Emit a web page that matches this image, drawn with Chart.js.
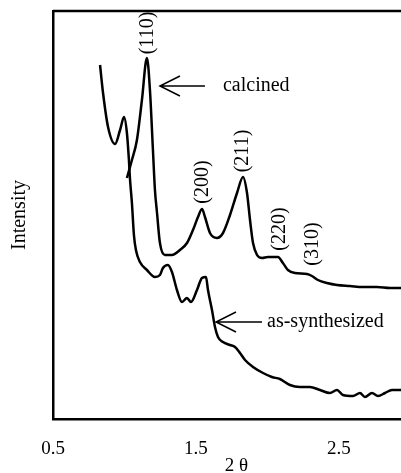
<!DOCTYPE html>
<html>
<head>
<meta charset="utf-8">
<script src="https://cdn.jsdelivr.net/npm/chart.js@4/dist/chart.umd.min.js"></script>
<style>
  html, body { margin: 0; padding: 0; background: #fff; }
  canvas { display: block; }
</style>
</head>
<body>
<canvas id="xrd" width="401" height="473"></canvas>
<script>
// --- DATA (2 theta vs intensity, arbitrary units) ---
const xTicks = [0.5, 1.5, 2.5];

const synthX = [0.829, 0.850, 0.885, 0.934, 0.969, 0.997, 1.017, 1.031, 1.038, 1.052,
    1.066, 1.080, 1.108, 1.157, 1.213, 1.248, 1.269, 1.304, 1.332, 1.367,
    1.402, 1.437, 1.465, 1.507, 1.542, 1.570, 1.584, 1.612, 1.633, 1.654,
    1.689, 1.738, 1.773, 1.808, 1.843, 1.899, 1.969, 2.031, 2.087, 2.157,
    2.227, 2.297, 2.367, 2.437, 2.486, 2.528, 2.598, 2.647, 2.682, 2.731,
    2.773, 2.822, 2.871, 2.934];
const synthY = [354, 326, 292, 275, 289, 302, 286, 259, 241, 216,
    184, 169, 157, 149, 142, 144, 151, 154, 147, 129,
    117, 121, 117, 129, 141, 142, 129, 109, 92, 82,
    77, 74, 72, 66, 59, 52, 46, 42, 40, 34,
    32, 32, 29, 26, 29, 24, 23, 26, 22, 26,
    23, 26, 29, 29];

const calcX = [1.017, 1.052, 1.087, 1.122, 1.157, 1.178, 1.199, 1.213, 1.227, 1.248,
    1.283, 1.332, 1.388, 1.437, 1.479, 1.514, 1.542, 1.563, 1.598, 1.647,
    1.689, 1.738, 1.787, 1.829, 1.857, 1.878, 1.899, 1.927, 1.962, 2.003,
    2.073, 2.108, 2.143, 2.192, 2.276, 2.311, 2.353, 2.416, 2.486, 2.577,
    2.668, 2.766, 2.857, 2.934];
const calcY = [241, 259, 279, 319, 361, 329, 269, 229, 207, 176,
    164, 164, 169, 176, 189, 202, 210, 202, 186, 181,
    186, 204, 226, 242, 226, 199, 176, 164, 161, 162,
    162, 156, 149, 146, 145, 143, 139, 136, 134, 133,
    132, 132, 131, 131];

// Miller indices, placed above the calcined peaks (data coords)
const peakLabels = ['(110)', '(200)', '(211)', '(220)', '(310)'];
const peakLabelX = [1.164, 1.549, 1.829, 2.087, 2.318];
const peakLabelY = [386, 237, 268, 190, 175];

// arrows: tip, tail and label start
const arrowLabels = ['calcined', 'as-synthesized'];
const arrowTipX = [1.248, 1.640];
const arrowTailX = [1.563, 1.962];
const arrowTextX = [1.689, 1.997];
const arrowY = [333, 97];

const SERIF = "'Liberation Serif', 'DejaVu Serif', serif";

function toPoints(xs, ys) {
    return xs.map((x, i) => ({ x: x, y: ys[i] }));
}

// --- ANNOTATIONS ---
const annotate = {
    id: 'annotate',
    afterDatasetsDraw(chart) {
        const ctx = chart.ctx;
        const xs = chart.scales.x, ys = chart.scales.y;
        const area = chart.chartArea;
        ctx.save();
        // top frame line (no right-hand border in the original)
        ctx.strokeStyle = '#000';
        ctx.lineWidth = 2.5;
        ctx.beginPath();
        ctx.moveTo(area.left, area.top);
        ctx.lineTo(chart.width, area.top);
        ctx.stroke();

        ctx.fillStyle = '#000';
        ctx.font = '20px ' + SERIF;
        ctx.textAlign = 'center';
        ctx.textBaseline = 'middle';
        peakLabels.forEach((txt, i) => {
            ctx.save();
            ctx.translate(xs.getPixelForValue(peakLabelX[i]), ys.getPixelForValue(peakLabelY[i]));
            ctx.rotate(-Math.PI / 2);
            ctx.fillText(txt, 0, 0);
            ctx.restore();
        });

        ctx.lineWidth = 1.5;
        ctx.textAlign = 'left';
        arrowLabels.forEach((txt, i) => {
            const tip = xs.getPixelForValue(arrowTipX[i]);
            const tail = xs.getPixelForValue(arrowTailX[i]);
            const y = ys.getPixelForValue(arrowY[i]);
            ctx.beginPath();
            ctx.moveTo(tail, y);
            ctx.lineTo(tip, y);
            ctx.moveTo(tip + 20, y - 10);
            ctx.lineTo(tip, y);
            ctx.lineTo(tip + 20, y + 10);
            ctx.stroke();
            ctx.fillText(txt, xs.getPixelForValue(arrowTextX[i]), y);
        });
        ctx.restore();
    }
};

new Chart(document.getElementById('xrd'), {
    type: 'line',
    data: {
        datasets: [
            { label: 'calcined', data: toPoints(calcX, calcY) },
            { label: 'as-synthesized', data: toPoints(synthX, synthY) }
        ]
    },
    options: {
        responsive: false,
        animation: false,
        devicePixelRatio: 1,
        layout: { padding: { top: 11, left: 0, right: 0, bottom: 0 } },
        elements: {
            line: { borderColor: '#000', borderWidth: 2.5, cubicInterpolationMode: 'monotone', fill: false },
            point: { radius: 0 }
        },
        plugins: { legend: { display: false }, tooltip: { enabled: false } },
        scales: {
            x: {
                type: 'linear',
                min: 0.5,
                max: 2.934,
                grid: { display: false },
                border: { display: true, color: '#000', width: 2.5 },
                afterBuildTicks: s => { s.ticks = xTicks.map(v => ({ value: v })); },
                afterFit: s => { s.height = 54; },
                ticks: {
                    color: '#000',
                    font: { family: SERIF, size: 19 },
                    padding: 11,
                    maxRotation: 0,
                    autoSkip: false,
                    callback: v => v.toFixed(1)
                },
                title: {
                    display: true,
                    text: '\u2002\u20022 θ',
                    color: '#000',
                    font: { family: SERIF, size: 19, lineHeight: 1 },
                    padding: { top: 0, bottom: -3 }
                }
            },
            y: {
                min: 0,
                max: 408,
                grid: { display: false },
                border: { display: true, color: '#000', width: 2.5 },
                ticks: { display: false },
                afterFit: s => { s.width = 53; },
                title: {
                    display: true,
                    text: 'Intensity',
                    color: '#000',
                    font: { family: SERIF, size: 20, lineHeight: 1 },
                    padding: { top: 10, bottom: 0 }
                }
            }
        }
    },
    plugins: [annotate]
});
</script>
</body>
</html>
